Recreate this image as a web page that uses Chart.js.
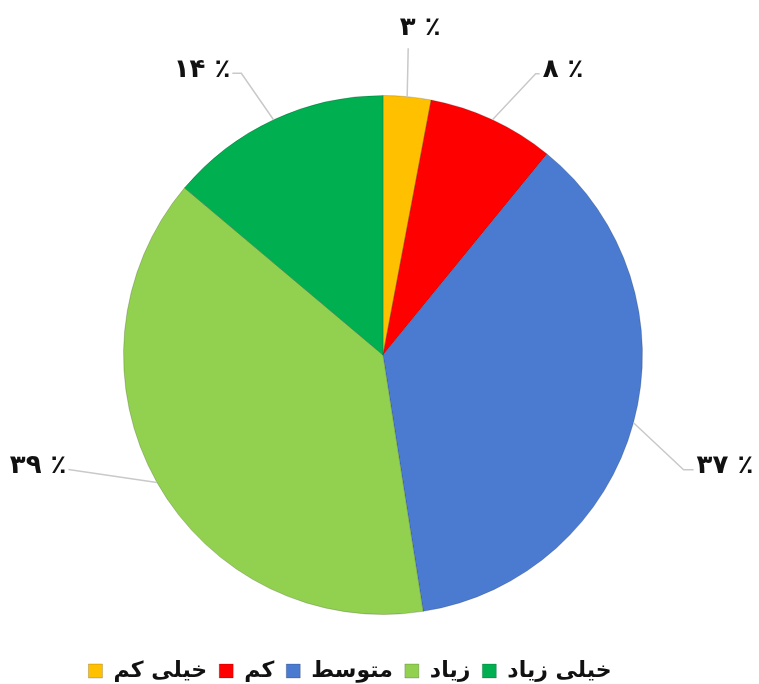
<!DOCTYPE html>
<html>
<head>
<meta charset="utf-8">
<script src="https://cdn.jsdelivr.net/npm/chart.js@4.4.1/dist/chart.umd.min.js"></script>
<style>
  html, body { margin: 0; padding: 0; background: #fff; }
  #wrap { width: 759px; height: 684px; }
</style>
</head>
<body>
<div id="wrap"><canvas id="myPieChart"></canvas></div>
<script>
var categories = ['خیلی کم', 'کم', 'متوسط', 'زیاد', 'خیلی زیاد'];
var values = [3, 8, 37, 39, 14];
var valueLabels = ['۳ ٪', '۸ ٪', '۳۷ ٪', '۳۹ ٪', '۱۴ ٪'];
var colors = ['#FFC000', '#FF0000', '#4A7BD0', '#92D050', '#00B050'];

// where each leader line bends (angle from top in degrees, radius factor)
var labelPlaces = [
    { ang: 4.7, rf: 1.186, tail: 0, side: 'top' },
    { ang: 28.5, rf: 1.233, tail: 4, side: 'right' },
    { ang: 110.9, rf: 1.24, tail: 10, side: 'right' },
    { ang: 250, rf: 1.29, tail: 0, side: 'left' },
    { ang: 333.3, rf: 1.215, tail: -9, side: 'left' }
];

var leaderLabels = {
    id: 'leaderLabels',
    afterLayout: function (chart) {
        var lg = chart.legend;
        var dy = 670 - (lg.top + lg.height / 2);
        var dx = -33;
        lg.top += dy; lg.bottom += dy;
        lg.left += dx; lg.right += dx;
    },
    afterDatasetsDraw: function (chart) {
        var ctx = chart.ctx;
        var meta = chart.getDatasetMeta(0);
        ctx.save();
        ctx.font = 'bold 26px "DejaVu Sans"';
        meta.data.forEach(function (arc, i) {
            var p = arc.getProps(['x', 'y', 'startAngle', 'endAngle', 'outerRadius'], true);
            var mid = (p.startAngle + p.endAngle) / 2;
            var sx = p.x + Math.cos(mid) * p.outerRadius;
            var sy = p.y + Math.sin(mid) * p.outerRadius;
            var pl = labelPlaces[i];
            var a = pl.ang * Math.PI / 180;
            var ex = p.x + Math.sin(a) * p.outerRadius * pl.rf;
            var ey = p.y - Math.cos(a) * p.outerRadius * pl.rf;
            ctx.strokeStyle = '#c9c9c9';
            ctx.lineWidth = 1.5;
            ctx.beginPath();
            ctx.moveTo(sx, sy);
            ctx.lineTo(ex, ey);
            ctx.lineTo(ex + pl.tail, ey);
            ctx.stroke();
            ctx.fillStyle = '#111';
            ctx.textBaseline = 'alphabetic';
            if (pl.side === 'top') {
                ctx.textAlign = 'center';
                ctx.fillText(valueLabels[i], ex + 12, ey - 13);
            } else if (pl.side === 'right') {
                ctx.textAlign = 'left';
                ctx.fillText(valueLabels[i], ex + pl.tail + 3, ey + 3);
            } else {
                ctx.textAlign = 'right';
                ctx.fillText(valueLabels[i], ex + pl.tail - 2, ey + 4);
            }
        });
        ctx.restore();
    }
};

var ctx = document.getElementById('myPieChart').getContext('2d');

var myPieChart = new Chart(ctx, {
    type: 'pie',
    data: {
        labels: categories,
        datasets: [{
            data: values,
            backgroundColor: colors,
            borderColor: 'rgba(0,0,0,0.18)',
            borderWidth: 1
        }]
    },
    options: {
        responsive: true,
        maintainAspectRatio: false,
        animation: false,
        layout: { padding: { top: 95, left: 7, right: 0, bottom: 25 } },
        plugins: {
            tooltip: { enabled: false },
            legend: {
                position: 'bottom',
                labels: {
                    boxWidth: 14,
                    boxHeight: 14,
                    padding: 12,
                    color: '#111',
                    font: { family: '"DejaVu Sans"', size: 22, weight: 'bold' }
                }
            }
        }
    },
    plugins: [leaderLabels]
});
</script>
</body>
</html>
